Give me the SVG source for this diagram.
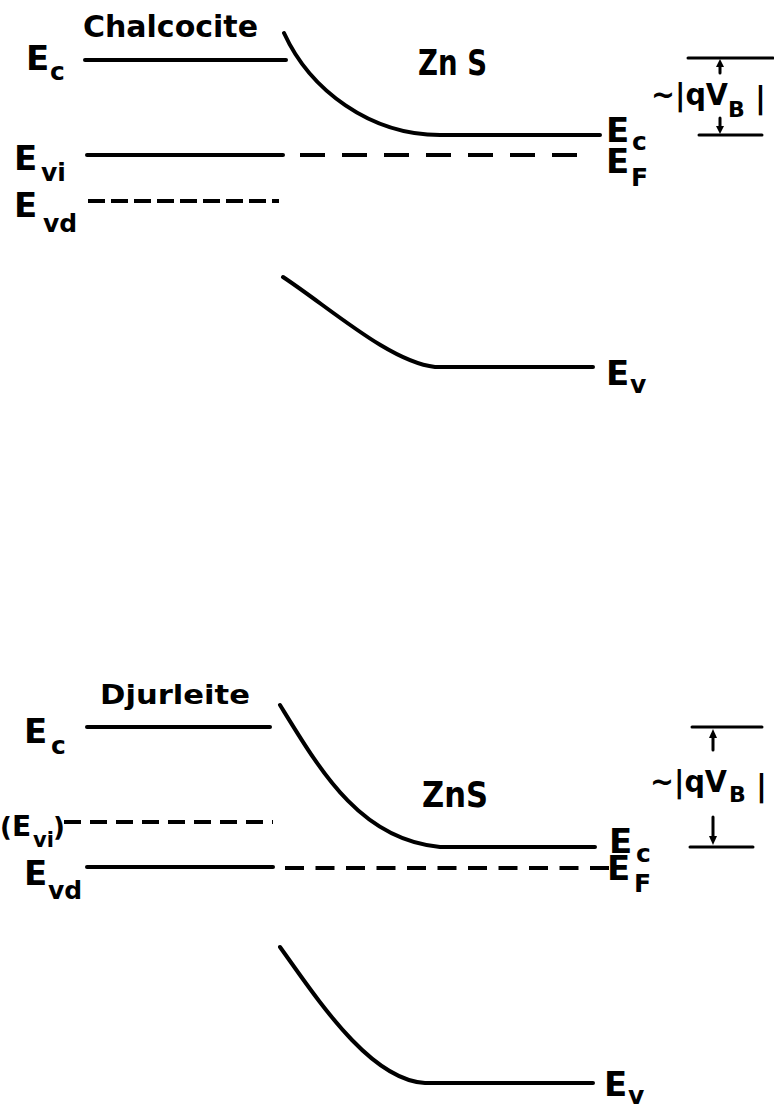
<svg xmlns="http://www.w3.org/2000/svg" width="774" height="1110" viewBox="0 0 774 1110">
<style>
.ln{stroke:#000;stroke-width:4;fill:none;stroke-linecap:round}
.th{stroke:#000;stroke-width:3;fill:none;stroke-linecap:round}
.da{stroke:#000;stroke-width:4;fill:none;stroke-linecap:butt}
.t{font-family:"DejaVu Sans","Liberation Sans",sans-serif;font-weight:bold;fill:#000}
.big{font-size:34px}
.sub{font-size:25px}
.ar{fill:#000}
</style>
<rect width="774" height="1110" fill="#fff"/>
<g id="top-panel">
  <g id="top-chalcocite">
    <text class="t" x="83" y="37" font-size="30" textLength="175" lengthAdjust="spacingAndGlyphs">Chalcocite</text>
    <path class="ln" d="M85,60 H286"/>
    <path class="ln" d="M87,155 H283"/>
    <path class="da" d="M88,201 H279" stroke-dasharray="17 6"/>
    <text class="t big" x="26" y="70">E</text><text class="t sub" x="50" y="80">c</text>
    <text class="t big" x="14" y="170">E</text><text class="t sub" x="41" y="181">vi</text>
    <text class="t big" x="14" y="217">E</text><text class="t sub" x="43" y="232">vd</text>
  </g>
  <g id="top-zns">
    <text class="t" x="418" y="75" font-size="36" textLength="69" lengthAdjust="spacingAndGlyphs">Zn S</text>
    <path class="ln" d="M284,33 C310,90 370,135 440,135 L600,135"/>
    <path class="da" d="M300,155 H594" stroke-dasharray="25 17"/>
    <path class="ln" d="M283,277 C330,308 390,362 435,367 L593,367"/>
    <text class="t big" x="606" y="142">E</text><text class="t sub" x="632" y="150">c</text>
    <text class="t big" x="606" y="173">E</text><text class="t sub" x="631" y="186">F</text>
    <text class="t big" x="606" y="385">E</text><text class="t sub" x="630" y="393">v</text>
  </g>
  <g id="top-barrier">
    <path class="th" d="M688,58 H773"/>
    <path class="th" d="M699,135 H762"/>
    <path class="th" d="M720,64 V73"/>
    <polygon class="ar" points="720,59 716,67 724,67"/>
    <path class="th" d="M720,118 V129"/>
    <polygon class="ar" points="720,134 716,126 724,126"/>
    <text class="t" x="651" y="105" font-size="30" textLength="77" lengthAdjust="spacingAndGlyphs">~|qV</text>
    <text class="t" x="728" y="117" font-size="22">B</text>
    <text class="t" x="755" y="108" font-size="30">|</text>
  </g>
</g>
<g id="bottom-panel">
  <g id="bottom-djurleite">
    <text class="t" x="100" y="704" font-size="27" textLength="150" lengthAdjust="spacingAndGlyphs">Djurleite</text>
    <path class="ln" d="M87,727 H270"/>
    <path class="da" d="M64,822 H273" stroke-dasharray="17 9"/>
    <path class="ln" d="M87,867 H273"/>
    <text class="t big" x="24" y="743">E</text><text class="t sub" x="51" y="754">c</text>
    <text class="t" x="0" y="836" font-size="26">(</text>
    <text class="t" x="12" y="836" font-size="28">E</text>
    <text class="t" x="33" y="847" font-size="21">vi</text>
    <text class="t" x="53" y="836" font-size="26">)</text>
    <text class="t big" x="24" y="885">E</text><text class="t sub" x="48" y="899">vd</text>
  </g>
  <g id="bottom-zns">
    <text class="t" x="422" y="807" font-size="36" textLength="66" lengthAdjust="spacingAndGlyphs">ZnS</text>
    <path class="ln" d="M280,705 C320,770 360,840 440,847 L595,847"/>
    <path class="da" d="M285,868 H609" stroke-dasharray="19 11.5"/>
    <path class="ln" d="M280,947 C318,1000 370,1080 425,1083 L593,1083"/>
    <text class="t big" x="609" y="853">E</text><text class="t sub" x="636" y="862">c</text>
    <text class="t big" x="607" y="880">E</text><text class="t sub" x="634" y="892">F</text>
    <text class="t big" x="604" y="1096">E</text><text class="t sub" x="628" y="1104">v</text>
  </g>
  <g id="bottom-barrier">
    <path class="th" d="M692,727 H762"/>
    <path class="th" d="M690,847 H753"/>
    <path class="th" d="M713,734 V750"/>
    <polygon class="ar" points="713,729 709,738 717,738"/>
    <path class="th" d="M713,817 V838"/>
    <polygon class="ar" points="713,845 709,836 717,836"/>
    <text class="t" x="650" y="792" font-size="30" textLength="77" lengthAdjust="spacingAndGlyphs">~|qV</text>
    <text class="t" x="729" y="802" font-size="22">B</text>
    <text class="t" x="756" y="796" font-size="30">|</text>
  </g>
</g>
</svg>
